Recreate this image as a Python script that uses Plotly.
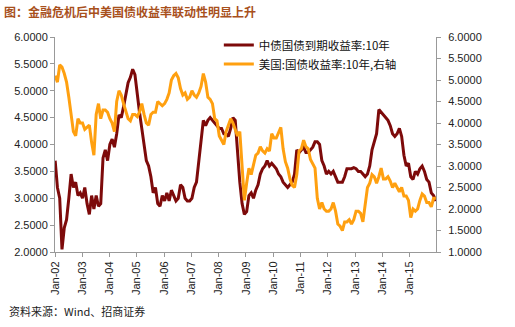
import pandas as pd
import plotly.graph_objects as go

# Monthly readings, Jan-2002 .. Dec-2015
china_10y = [
    3.7, 3.2, 3.0, 2.05, 2.45, 2.6, 3.0, 3.45, 3.2, 3.3, 3.05, 3.1,    # 2002
    3.0, 3.2, 2.9, 2.7, 3.05, 2.8, 3.05, 2.85, 2.9, 3.75, 3.9, 3.7,    # 2003
    4.0, 4.1, 3.95, 4.2, 4.55, 4.5, 4.7, 4.95, 5.15, 5.25, 5.4, 5.3,   # 2004
    4.9, 4.6, 4.3, 4.0, 3.7, 3.6, 3.4, 3.1, 3.2, 2.9, 2.85, 3.05,      # 2005
    2.95, 3.1, 2.95, 3.15, 3.05, 2.95, 3.0, 3.25, 3.2, 3.0, 2.95, 2.95,  # 2006
    3.0, 3.2, 3.3, 3.65, 4.0, 4.45, 4.35, 4.45, 4.5, 4.45, 4.4, 4.35,  # 2007
    4.3, 4.3, 4.2, 4.2, 4.15, 4.3, 4.5, 4.45, 3.8, 3.3, 2.9, 2.7,      # 2008
    2.75, 3.05, 3.1, 3.0, 3.15, 3.25, 3.45, 3.55, 3.6, 3.7, 3.6, 3.65,  # 2009
    3.6, 3.55, 3.45, 3.4, 3.3, 3.25, 3.2, 3.25, 3.3, 3.45, 3.9, 3.85,  # 2010
    3.9, 3.95, 3.85, 3.85, 3.9, 3.95, 4.05, 4.05, 4.0, 3.7, 3.6, 3.45,  # 2011
    3.5, 3.45, 3.5, 3.4, 3.3, 3.3, 3.3, 3.4, 3.55, 3.55, 3.55, 3.57,   # 2012
    3.55, 3.5, 3.5, 3.45, 3.4, 3.45, 3.6, 3.9, 4.05, 4.2, 4.65, 4.6,   # 2013
    4.55, 4.5, 4.45, 4.35, 4.2, 4.15, 4.2, 4.3, 4.15, 3.8, 3.6, 3.65,  # 2014
    3.4, 3.35, 3.5, 3.45, 3.55, 3.6, 3.5, 3.35, 3.3, 3.1, 3.05, 2.95,  # 2015
]

us_10y = [
    5.1, 4.95, 5.35, 5.3, 5.15, 4.95, 4.6, 4.2, 3.8, 3.7, 4.1, 4.0,     # 2002
    4.0, 3.85, 3.9, 3.95, 3.55, 3.25, 4.2, 4.45, 4.1, 4.3, 4.3, 4.25,  # 2003
    4.1, 4.0, 3.8, 4.5, 4.75, 4.65, 4.45, 4.25, 4.1, 4.05, 4.2, 4.2,   # 2004
    4.15, 4.25, 4.45, 4.2, 4.0, 3.95, 4.2, 4.25, 4.25, 4.5, 4.45, 4.4,  # 2005
    4.45, 4.55, 4.7, 5.0, 5.1, 5.15, 5.05, 4.8, 4.65, 4.7, 4.55, 4.6,  # 2006
    4.75, 4.65, 4.6, 4.7, 4.85, 5.15, 4.95, 4.6, 4.55, 4.45, 4.1, 4.05,  # 2007
    3.7, 3.6, 3.5, 3.8, 3.95, 4.1, 4.0, 3.85, 3.7, 3.8, 3.0, 2.2,      # 2008
    2.6, 2.95, 2.8, 3.0, 3.25, 3.3, 3.45, 3.35, 3.3, 3.4, 3.35, 3.75,  # 2009
    3.65, 3.65, 3.8, 3.9, 3.4, 3.1, 2.95, 2.7, 2.55, 2.5, 2.8, 3.35,   # 2010
    3.4, 3.6, 3.45, 3.4, 3.15, 3.05, 2.95, 2.25, 2.0, 2.15, 2.0, 1.95,  # 2011
    1.95, 2.0, 2.15, 1.95, 1.65, 1.6, 1.5, 1.7, 1.7, 1.75, 1.65, 1.75,  # 2012
    1.95, 1.95, 1.9, 1.7, 2.1, 2.5, 2.6, 2.8, 2.75, 2.6, 2.75, 2.95,   # 2013
    2.7, 2.7, 2.75, 2.65, 2.5, 2.6, 2.5, 2.4, 2.5, 2.3, 2.3, 2.2,      # 2014
    1.8, 2.0, 1.95, 2.0, 2.2, 2.35, 2.3, 2.15, 2.15, 2.05, 2.25, 2.25,  # 2015
]

dates = pd.date_range("2002-01-03", "2015-12-18", periods=len(china_10y))
tick_dates = pd.date_range("2002-01-01", "2015-01-01", freq="YS")

name_cn = "中债国债到期收益率:10年"
name_us = "美国:国债收益率:10年,右轴"
title_text = "图：金融危机后中美国债收益率联动性明显上升"
source_text = "资料来源：Wind、招商证券"

fig = go.Figure()
fig.add_trace(go.Scatter(x=dates, y=china_10y, name=name_cn, mode="lines",
                         line=dict(color="#7d0a0a", width=3), yaxis="y"))
fig.add_trace(go.Scatter(x=dates, y=us_10y, name=name_us, mode="lines",
                         line=dict(color="#ffa010", width=3), yaxis="y2"))

axis_font = dict(family="Liberation Sans, Arial, sans-serif", size=11, color="#222")
fig.update_layout(
    width=515, height=327,
    margin=dict(l=55, r=79, t=37, b=75),
    paper_bgcolor="white", plot_bgcolor="white",
    font=dict(family="Noto Sans CJK SC, sans-serif", color="#222"),
    showlegend=True,
    legend=dict(x=0.43, y=1.03, xanchor="left", yanchor="top",
                bgcolor="rgba(0,0,0,0)", font=dict(size=11.5, color="#111"),
                itemwidth=30, tracegroupgap=0),
    title=dict(text="<b>" + title_text + "</b>", xref="container", x=0.008,
               y=0.962, xanchor="left", yanchor="middle",
               font=dict(size=12, color="#a8501c", family="Noto Sans CJK SC")),
    xaxis=dict(type="date", range=["2002-01-01", "2015-12-20"],
               tickvals=tick_dates, tickformat="%b-%y", tickangle=-90,
               ticks="outside", ticklen=4, tickcolor="#999",
               showline=True, linecolor="#999", linewidth=1,
               showgrid=False, zeroline=False, tickfont=axis_font),
    yaxis=dict(range=[2, 6], dtick=0.5, tickformat=".4f",
               ticks="outside", ticklen=4, tickcolor="#999",
               showline=True, linecolor="#999", linewidth=1,
               showgrid=False, zeroline=False, tickfont=axis_font),
    yaxis2=dict(range=[1, 6], dtick=0.5, tickformat=".4f", overlaying="y",
                side="right", ticks="outside", ticklen=4, tickcolor="#999",
                showline=True, linecolor="#999", linewidth=1,
                ticklabelstandoff=5,
                showgrid=False, zeroline=False, tickfont=axis_font),
)

fig.add_annotation(text=source_text, xref="paper", yref="paper",
                   x=-0.126, y=-0.275, xanchor="left", yanchor="middle",
                   showarrow=False, font=dict(size=11, color="#222"))

fig.write_html("out.html")
